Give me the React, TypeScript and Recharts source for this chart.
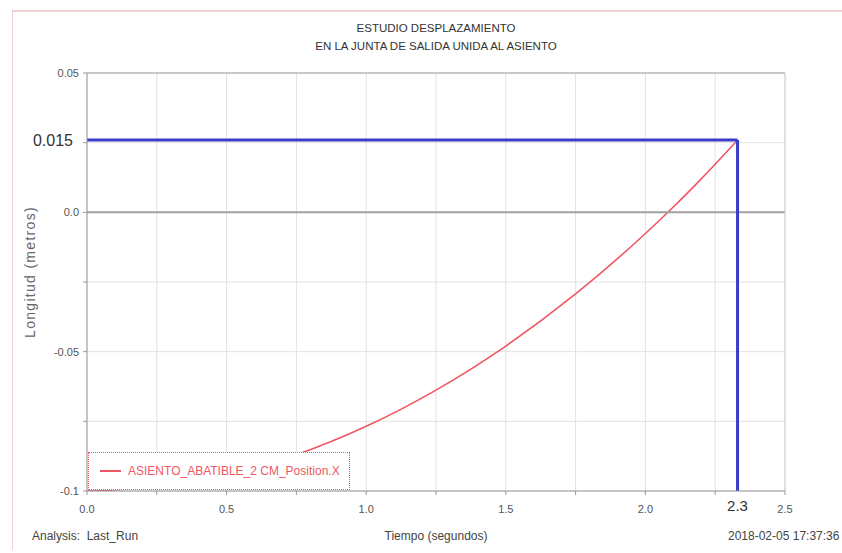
import React from 'react';
import { ComposedChart, Line, XAxis, YAxis, CartesianGrid, ReferenceLine, Legend } from 'recharts';

// Tiempo (s) / Longitud (m)
const TIME = [0, 0.25, 0.5, 0.75, 1.0, 1.25, 1.5, 1.75, 2.0, 2.1, 2.2, 2.33];
const POSITION_X = [-0.1, -0.0985, -0.0943, -0.087, -0.0768, -0.0638, -0.048, -0.0293, -0.0076, 0.0019, 0.012, 0.0259];

const X_TICKS = [0, 0.25, 0.5, 0.75, 1.0, 1.25, 1.5, 1.75, 2.0, 2.25, 2.5];
const X_LABELS = ['0.0', '', '0.5', '', '1.0', '', '1.5', '', '2.0', '', '2.5'];
const Y_TICKS = [-0.1, -0.075, -0.05, -0.025, 0, 0.025, 0.05];
const Y_LABELS = ['-0.1', '', '-0.05', '', '0.0', '', '0.05'];

// blue marker lines
const MARK_T = 2.33;
const MARK_Y = 0.026;
const MARK_T_LABEL = '2.3';
const MARK_Y_LABEL = '0.015';

const SERIES_NAME = 'ASIENTO_ABATIBLE_2 CM_Position.X';

const data = TIME.map((t, i) => ({ t, x: POSITION_X[i] }));

const FONT = '"Liberation Sans", Arial, sans-serif';
const RED = '#ef5663';
const BLUE = '#3b3bc9';

const XTick = ({ x, y, payload }: any) => {
  const i = X_TICKS.indexOf(payload.value);
  const label = i >= 0 ? X_LABELS[i] : '';
  if (!label) return null;
  return (
    <text x={x} y={y} dy="0.71em" textAnchor="middle" fontSize={11} fill="#555" fontFamily={FONT}>
      {label}
    </text>
  );
};

const YTick = ({ x, y, payload }: any) => {
  const i = Y_TICKS.indexOf(payload.value);
  const label = i >= 0 ? Y_LABELS[i] : '';
  if (!label) return null;
  return (
    <text x={x} y={y} dy="0.35em" textAnchor="end" fontSize={11} fill="#555" fontFamily={FONT}>
      {label}
    </text>
  );
};

const LegendBox = () => (
  <div
    style={{
      boxSizing: 'border-box',
      border: `1px dotted ${RED}`,
      background: '#fff',
      width: 262,
      height: 38,
      display: 'flex',
      alignItems: 'center',
      fontFamily: FONT,
      fontSize: 12,
      color: RED,
    }}
  >
    <span style={{ display: 'inline-block', width: 21, height: 2, background: RED, margin: '0 7px 0 11px' }} />
    {SERIES_NAME}
  </div>
);

export default function App() {
  return (
    <div style={{ position: 'absolute', left: 0, top: 0, width: 842, height: 553, background: '#fff', overflow: 'hidden' }}>
      <div
        style={{
          position: 'absolute',
          left: 12,
          top: 10,
          width: 840,
          height: 538,
          borderTop: '2px solid #f3cfcf',
          borderLeft: '1px solid #f3cfcf',
        }}
      />
      <div
        style={{
          position: 'absolute',
          left: 87,
          width: 698,
          top: 19,
          textAlign: 'center',
          fontFamily: FONT,
          fontSize: 11.5,
          lineHeight: '18px',
          color: '#333',
        }}
      >
        ESTUDIO DESPLAZAMIENTO
        <br />
        EN LA JUNTA DE SALIDA UNIDA AL ASIENTO
      </div>

      <ComposedChart
        width={842}
        height={553}
        data={data}
        margin={{ top: 73, right: 57, left: 27, bottom: 42 }}
        style={{ position: 'absolute', left: 0, top: 0 }}
      >
        <CartesianGrid stroke="#e2e2e2" verticalValues={X_TICKS} horizontalValues={Y_TICKS} />
        <Line
          type="monotone"
          dataKey="x"
          name={SERIES_NAME}
          stroke={RED}
          strokeWidth={1.6}
          dot={false}
          isAnimationActive={false}
        />
        <XAxis
          type="number"
          dataKey="t"
          domain={[0, 2.5]}
          ticks={X_TICKS}
          tick={<XTick />}
          tickSize={4}
          tickMargin={10}
          stroke="#999"
          height={20}
          allowDataOverflow
        />
        <YAxis
          type="number"
          domain={[-0.1, 0.05]}
          ticks={Y_TICKS}
          tick={<YTick />}
          tickSize={4}
          tickMargin={4}
          stroke="#999"
          width={60}
          allowDataOverflow
        />
        <ReferenceLine y={0} stroke="#a0a0a0" strokeWidth={2} />
        <ReferenceLine y={0.05} stroke="#a0a0a0" strokeWidth={1} />
        <ReferenceLine x={2.5} stroke="#cfcfcf" strokeWidth={1} />
        <ReferenceLine
          segment={[{ x: 0, y: MARK_Y }, { x: MARK_T, y: MARK_Y }]}
          stroke={BLUE}
          strokeWidth={3}
          label={{ value: MARK_Y_LABEL, position: 'left', offset: 14, fill: '#333', fontSize: 16, fontFamily: FONT }}
        />
        <ReferenceLine
          segment={[{ x: MARK_T, y: -0.1 }, { x: MARK_T, y: MARK_Y }]}
          stroke={BLUE}
          strokeWidth={3}
          label={{ value: MARK_T_LABEL, position: 'bottom', offset: 9, fill: '#333', fontSize: 15, fontFamily: FONT }}
        />
        <Legend
          layout="horizontal"
          verticalAlign="middle"
          align="center"
          content={<LegendBox />}
          wrapperStyle={{ left: 88, top: 452, width: 262, height: 38 }}
        />
      </ComposedChart>

      <div
        style={{
          position: 'absolute',
          left: 30,
          top: 272,
          transform: 'translate(-50%, -50%) rotate(-90deg)',
          fontFamily: FONT,
          fontSize: 14,
          letterSpacing: 1.3,
          color: '#666',
          whiteSpace: 'nowrap',
        }}
      >
        Longitud (metros)
      </div>
      <div style={{ position: 'absolute', left: 32, top: 529, fontFamily: FONT, fontSize: 12, color: '#444' }}>
        Analysis:&nbsp; Last_Run
      </div>
      <div
        style={{ position: 'absolute', left: 336, width: 200, top: 529, textAlign: 'center', fontFamily: FONT, fontSize: 12, color: '#444' }}
      >
        Tiempo (segundos)
      </div>
      <div style={{ position: 'absolute', left: 728, top: 529, fontFamily: FONT, fontSize: 12, color: '#444', whiteSpace: 'nowrap' }}>
        2018-02-05 17:37:36
      </div>
    </div>
  );
}
